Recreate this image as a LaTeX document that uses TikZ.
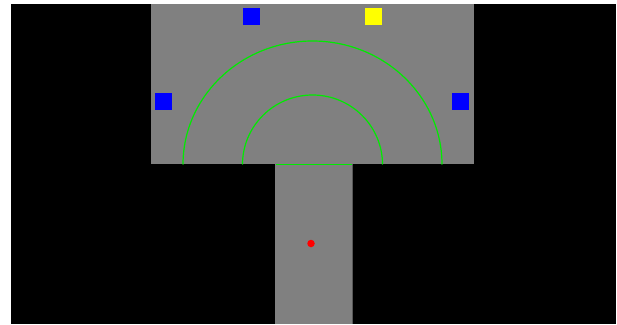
\documentclass[tikz,border=0pt]{standalone}
\usepackage{xcolor}
\usepackage{tikz}
\definecolor{floorgray}{RGB}{128,128,128}
\definecolor{edgegray}{RGB}{88,88,88}
\definecolor{pathgreen}{RGB}{0,235,0}
\definecolor{markblue}{RGB}{0,0,255}
\definecolor{markyellow}{RGB}{255,255,0}
\definecolor{botred}{RGB}{255,0,0}

\tikzset{
  marker/.style={minimum size=17pt,inner sep=0pt,outer sep=0pt},
  track/.style={draw=pathgreen,line width=1.2pt}
}

\begin{document}
\begin{tikzpicture}[x=1pt,y=-1pt]
  \useasboundingbox (0,0) rectangle (617,324);
  \fill[white] (0,0) rectangle (617,324);
  \fill[black] (11,4) rectangle (616,324);
  \fill[floorgray] (151,4) rectangle (474,164);
  \fill[floorgray] (275,164) rectangle (352,324);
  \draw[edgegray,line width=0.8pt] (352,164)--(352,324);
  \coordinate (c) at (312.5,164.5);
  \draw[track] (c) ++(-129.5,0) arc[start angle=180,end angle=360,x radius=129.5,y radius=123.5];
  \draw[track] (c) ++(-70,0) arc[start angle=180,end angle=360,x radius=70,y radius=69.5];
  \coordinate (gl) at (275.5,164.5);
  \coordinate (gr) at (352,164.5);
  \draw[track] (gl)--(gr);
  \node[marker,fill=markblue] (left) at (163.5,101.5) {};
  \node[marker,fill=markblue] (right) at (460.5,101.5) {};
  \node[marker,fill=markblue] (top) at (251.5,16.5) {};
  \node[marker,fill=markyellow] (goal) at (373.5,16.5) {};
  \node[circle,fill=botred,minimum size=7.5pt,inner sep=0pt] (robot) at (311,243.5) {};
\end{tikzpicture}
\end{document}
